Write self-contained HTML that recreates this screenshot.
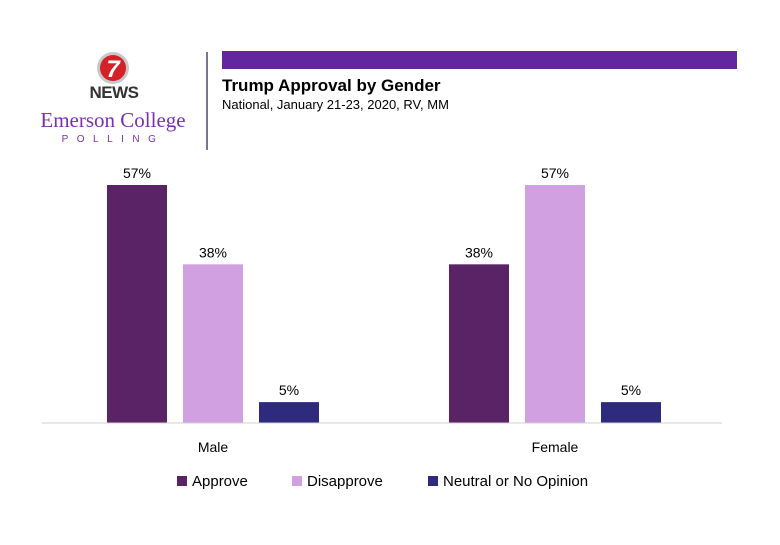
<!DOCTYPE html>
<html><head><meta charset="utf-8"><style>
body{margin:0;background:#fff;width:780px;height:540px;overflow:hidden;font-family:"Liberation Sans",sans-serif}
</style></head><body>
<svg width="780" height="540">
<g>
<circle cx="113" cy="68" r="16" fill="#c8c8c8"/>
<circle cx="113" cy="68" r="13" fill="#d42027"/>
<text x="113" y="77" text-anchor="middle" font-size="24" font-weight="bold" fill="#fff" font-style="italic">7</text>
<text x="114" y="98" text-anchor="middle" font-size="17" font-weight="bold" fill="#333" letter-spacing="-0.5">NEWS</text>
<text x="113" y="127" text-anchor="middle" font-family="Liberation Serif,serif" font-size="21" fill="#7a2fb0">Emerson College</text>
<text x="113" y="142" text-anchor="middle" font-size="10" fill="#7a2fb0" letter-spacing="8.5">POLLING</text>
</g>
<line x1="207" y1="52" x2="207" y2="150" stroke="#1a1a4a" stroke-width="1.2"/>
<rect x="222" y="51" width="515" height="18" fill="#62269e"/>
<text x="222" y="91" font-size="17" font-weight="bold" fill="#000">Trump Approval by Gender</text>
<text x="222" y="109" font-size="13" fill="#000">National, January 21-23, 2020, RV, MM</text>
<g id="plot"></g>
<g id="legend"></g>
</svg>
<script>
const categories=["Male","Female"];
const seriesNames=["Approve","Disapprove","Neutral or No Opinion"];
const approve=[57,38];
const disapprove=[38,57];
const neutral=[5,5];
const colors=["#5a2366","#d0a0e0","#2e2a7e"];
const series=[approve,disapprove,neutral];
const NS="http://www.w3.org/2000/svg";
const plot=document.getElementById('plot');
const x0=42,x1=722,base=423,pxPer=238/57;
const catW=342,barW=60,gap=16;
function y(v){return base-v*pxPer;}
function mk(t,a){const e=document.createElementNS(NS,t);for(const k in a)e.setAttribute(k,a[k]);return e;}
categories.forEach((c,i)=>{
  const cx=x0+catW*(i+0.5);
  series.forEach((s,j)=>{
    const bx=cx-barW*1.5-gap+j*(barW+gap);
    const r=mk('rect',{x:bx,y:y(s[i]),width:barW,height:base-y(s[i]),fill:colors[j]});
    
    
    plot.appendChild(r);
    const t=mk('text',{x:bx+barW/2,y:y(s[i])-7,'text-anchor':'middle','font-size':'14',fill:'#000'});
    t.textContent=s[i]+'%';
    
    
    plot.appendChild(t);
  });
  const l=mk('text',{x:cx,y:452,'text-anchor':'middle','font-size':'14',fill:'#000'});
  l.textContent=c;
  
  
  plot.appendChild(l);
});
const ax=mk('line',{x1:x0,y1:base,x2:x1,y2:base,stroke:'#d0d0d0','stroke-width':1});


plot.appendChild(ax);
const lg=document.getElementById('legend');
const lx=[177,292,428];
seriesNames.forEach((n,j)=>{
  const r=mk('rect',{x:lx[j],y:476,width:10,height:10,fill:colors[j]});
  
  
  lg.appendChild(r);
  const t=mk('text',{x:lx[j]+15,y:486,'font-size':'15',fill:'#000'});
  t.textContent=n;
  
  
  lg.appendChild(t);
});
</script>
</body></html>
